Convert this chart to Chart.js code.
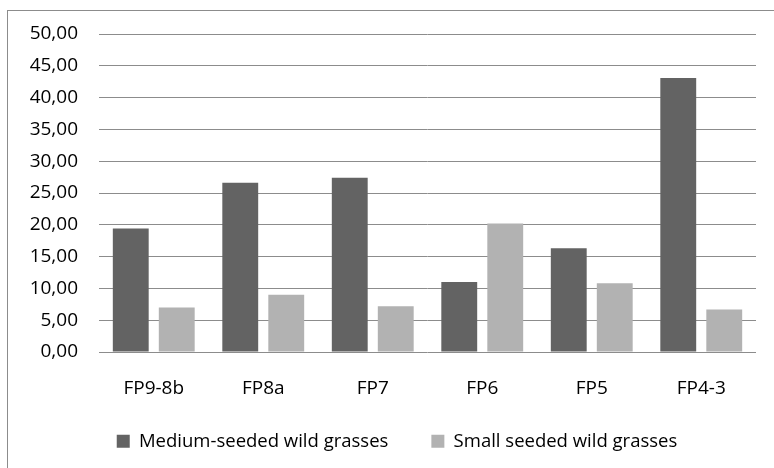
<!DOCTYPE html>
<html>
<head>
<meta charset="utf-8">
<script src="https://cdn.jsdelivr.net/npm/chart.js@4"></script>
<style>
  html, body { margin: 0; padding: 0; background: #fff; }
  #wrap { width: 774px; height: 468px; }
</style>
</head>
<body>
<div id="wrap"><canvas id="myCanvas" width="774" height="468"></canvas></div>
<script>
const categories = ["FP9-8b", "FP8a", "FP7", "FP6", "FP5", "FP4-3"];
const mediumSeeded = [19.4, 26.6, 27.4, 11.0, 16.3, 43.1];
const smallSeeded = [7.0, 9.0, 7.2, 20.2, 10.8, 6.7];
const yTicks = ["0,00", "5,00", "10,00", "15,00", "20,00", "25,00", "30,00", "35,00", "40,00", "45,00", "50,00"];

// outer frame, cut off at right and bottom like the original
const framePlugin = {
  id: "frame",
  beforeDraw(chart) {
    const c = chart.ctx;
    c.save();
    c.fillStyle = "#fff";
    c.fillRect(0, 0, chart.width, chart.height);
    c.strokeStyle = "#8c8c8c";
    c.lineWidth = 1;
    c.strokeRect(7.5, 10.5, 900, 600);
    c.restore();
  }
};

// move the legend a bit right and up, centred on the frame rather than the plot
const legendShift = {
  id: "legendShift",
  afterLayout(chart) {
    const lg = chart.legend;
    const h = lg.height;
    lg.left += 19;
    lg.right += 19;
    lg.top = 389;
    lg.bottom = 389 + h;
  }
};

const fontFamily = "'Open Sans', sans-serif";

new Chart(document.getElementById("myCanvas").getContext("2d"), {
  type: "bar",
  data: {
    labels: categories,
    datasets: [{
      label: "Medium-seeded wild grasses",
      data: mediumSeeded,
      backgroundColor: "#636363",
      categoryPercentage: 0.84,
      barPercentage: 0.78
    }, {
      label: "Small seeded wild grasses",
      data: smallSeeded,
      backgroundColor: "#b2b2b2",
      categoryPercentage: 0.84,
      barPercentage: 0.78
    }]
  },
  options: {
    responsive: false,
    animation: false,
    layout: { padding: { left: 0, right: 18, top: 34, bottom: 0 } },
    scales: {
      x: {
        grid: { display: false, drawTicks: false },
        border: { display: false },
        ticks: { color: "#000", padding: 25, font: { family: fontFamily, size: 19 } },
        afterFit: s => { s.height = 50; }
      },
      y: {
        min: 0,
        max: 50,
        ticks: {
          stepSize: 5,
          padding: 21,
          color: "#000",
          font: { family: fontFamily, size: 19 },
          callback: (v, i) => yTicks[i]
        },
        grid: { color: "#8c8c8c", lineWidth: 1, drawTicks: false },
        border: { display: false },
        afterFit: s => { s.width = 99; }
      }
    },
    plugins: {
      legend: {
        position: "bottom",
        maxHeight: 66,
        labels: {
          color: "#000",
          boxWidth: 13,
          boxHeight: 13,
          padding: 43,
          font: { family: fontFamily, size: 18.5 }
        }
      },
      tooltip: { enabled: false }
    }
  },
  plugins: [framePlugin, legendShift]
});
</script>
</body>
</html>
